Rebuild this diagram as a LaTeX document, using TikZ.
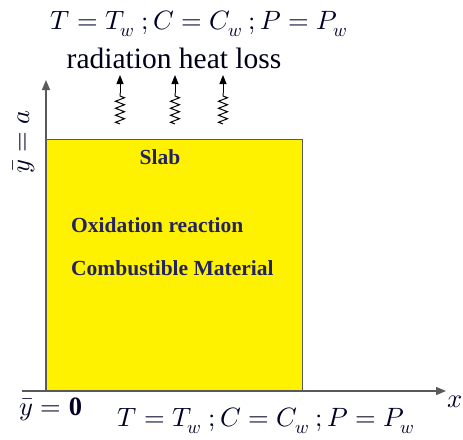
\documentclass[tikz,border=0pt]{standalone}
\usepackage{fontspec}
\usepackage{unicode-math}
\setmathfont{Latin Modern Math}
\setmainfont{Liberation Serif}
\usetikzlibrary{decorations.pathmorphing,arrows.meta}
\definecolor{navy}{RGB}{35,35,95}
\definecolor{axisgray}{RGB}{90,90,90}
\tikzset{
  axis/.style={draw=axisgray,line width=1.3pt,-{Triangle[length=10pt,width=8pt]}},
  slabtxt/.style={text=navy,font=\bfseries\fontsize{21.5}{24}\selectfont,inner sep=0pt},
  mathtxt/.style={text=black!85!blue,font=\fontsize{26.5}{30}\selectfont,inner sep=0pt},
  wave/.style={draw=black,line width=1pt,decorate,decoration={zigzag,segment length=7pt,amplitude=4.5pt}},
  tip/.style={draw=black,line width=1pt,-{Triangle[length=9pt,width=7pt]}}
}
\begin{document}
\begin{tikzpicture}[x=1pt,y=-1pt]
\useasboundingbox (0,0) rectangle (463,439);
% slab
\node[draw=axisgray,line width=1pt,fill=yellow,minimum width=256pt,minimum height=251pt,inner sep=0pt,anchor=north west] (slab) at (46,139) {};
% axes
\coordinate (o) at (46,391);
\coordinate (xs) at (22,391);
\coordinate (xe) at (446,391);
\coordinate (ye) at (46,80);
\draw[axis] (o) -- (ye);
\draw[axis] (xs) -- (xe);
% labels
\node[mathtxt] (toptext) at (199,24) {$T = T_w\ ; C = C_w\ ; P = P_w$};
\node[mathtxt] (bottext) at (266,421) {$T = T_w\ ; C = C_w\ ; P = P_w$};
\node[text=black!90!blue,font=\fontsize{29.5}{33}\selectfont,inner sep=0pt] (rad) at (174,58) {radiation heat loss};
\node[mathtxt,rotate=90] (ya) at (24,142) {$\bar{y} = a$};
\node[mathtxt] (y0) at (51,409) {$\bar{y} = \mathbf{0}$};
\node[mathtxt] (xl) at (455,402) {$x$};
\node[slabtxt] (s1) at (160,157) {Slab};
\node[slabtxt,anchor=west] (s2) at (71,225) {Oxidation reaction};
\node[slabtxt,anchor=west] (s3) at (71,268) {Combustible Material};
% wavy arrows
\foreach \i/\x in {1/120,2/175,3/223}{
  \coordinate (wb\i) at (\x,124);
  \coordinate (wm\i) at (\x,93);
  \coordinate (wt\i) at (\x,75);
  \draw[wave] (wb\i) -- (wm\i);
  \draw[tip] (wm\i) -- (wt\i);
}
\end{tikzpicture}
\end{document}
